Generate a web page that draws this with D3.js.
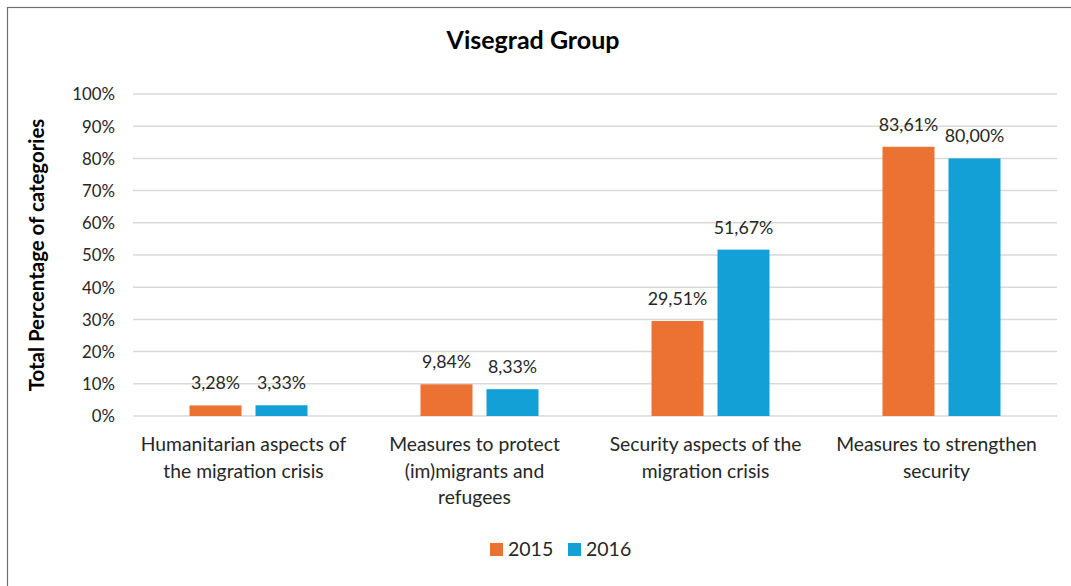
<!DOCTYPE html>
<html><head><meta charset="utf-8">
<script src="https://cdn.jsdelivr.net/npm/d3@7"></script>
<style>body{margin:0;background:#fff;} svg{display:block;font-family:Lato, "Open Sans", sans-serif;}</style>
</head><body>
<svg id="c" width="1071" height="586"></svg>
<script>
const categories = [
  ["Humanitarian aspects of", "the migration crisis"],
  ["Measures to protect", "(im)migrants and", "refugees"],
  ["Security aspects of the", "migration crisis"],
  ["Measures to strengthen", "security"]
];
const seriesNames = ["2015", "2016"];
const values2015 = [3.28, 9.84, 29.51, 83.61];
const values2016 = [3.33, 8.33, 51.67, 80.00];
const yTicks = [0,10,20,30,40,50,60,70,80,90,100];
const colors = ["#EC7233", "#12A0D7"];

const svg = d3.select("#c");
svg.append("rect").attr("x",7.5).attr("y",7.5).attr("width",1080).attr("height",600)
  .attr("fill","none").attr("stroke","#6f6f6f").attr("stroke-width",1.2);

const m = {l:133, r:1057, t:94, b:416};
const x0 = d3.scaleBand().domain(d3.range(categories.length)).range([m.l,m.r]);
const y = d3.scaleLinear().domain([0,100]).range([m.b,m.t]);
const barW = 52, gap = 14;
const fmt = v => v.toFixed(2).replace(".", ",") + "%";

// gridlines
svg.append("g").selectAll("line").data(yTicks).join("line")
  .attr("x1",m.l).attr("x2",m.r).attr("y1",d=>y(d)).attr("y2",d=>y(d))
  .attr("stroke","#d9d9d9").attr("stroke-width",1.5);

// y axis labels
const yAxis = d3.axisLeft(y).tickValues(yTicks).tickFormat(d=>d+"%").tickSize(0).tickPadding(0);
const ya = svg.append("g").attr("transform",`translate(${m.l-18},0)`).call(yAxis);
ya.select(".domain").remove();
ya.selectAll("text").attr("font-size",16.8).attr("fill","#262626").attr("font-family","Lato, sans-serif").attr("dy","0.35em");

const series = [values2015, values2016];
series.forEach((vals, s) => {
  const off = s===0 ? -(gap/2+barW) : gap/2;
  svg.append("g").selectAll("rect").data(vals).join("rect")
    .attr("x",(d,i)=>x0(i)+x0.bandwidth()/2+off)
    .attr("width",barW)
    .attr("y",d=>y(d)).attr("height",d=>y(0)-y(d))
    .attr("fill",colors[s]);
  svg.append("g").selectAll("text").data(vals).join("text")
    .attr("x",(d,i)=>x0(i)+x0.bandwidth()/2+off+barW/2)
    .attr("y",d=>y(d)-16)
    .attr("text-anchor","middle").attr("font-size",17.8).attr("fill","#262626")
    .text(d=>fmt(d));
});

// category labels
categories.forEach((lines,i)=>{
  const cx = x0(i)+x0.bandwidth()/2-5;
  const t = svg.append("text").attr("x",cx).attr("y",451)
    .attr("text-anchor","middle").attr("font-size",19.3).attr("fill","#262626");
  lines.forEach((ln,j)=>t.append("tspan").attr("x",cx).attr("dy",j?26.5:0).text(ln));
});

// title
svg.append("text").attr("x",533).attr("y",49).attr("text-anchor","middle")
  .attr("font-size",25).attr("font-weight","bold").attr("fill","#000").text("Visegrad Group");

// y title
svg.append("text").attr("transform",`translate(44,${(m.t+m.b)/2}) rotate(-90)`)
  .attr("text-anchor","middle").attr("font-size",20.4).attr("font-weight","bold").attr("fill","#000")
  .text("Total Percentage of categories");

// legend
const lg = svg.append("g");
const lx = [490, 568];
seriesNames.forEach((n,i)=>{
  lg.append("rect").attr("x",lx[i]).attr("y",543).attr("width",13).attr("height",13).attr("fill",colors[i]);
  lg.append("text").attr("x",lx[i]+18).attr("y",556).attr("font-size",19.5).attr("fill","#262626").text(n);
});
</script>
</body></html>
